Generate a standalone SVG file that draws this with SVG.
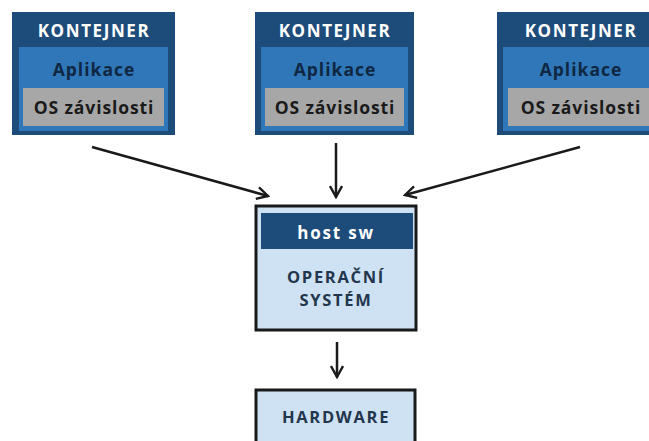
<svg xmlns="http://www.w3.org/2000/svg" width="649" height="441" viewBox="0 0 649 441">
<defs>
<style>
.outer{fill:#1d4c7a}
.inner{fill:#2f77b8}
.gray{fill:#a7a7a7}
.t{font-family:"Open Sans","DejaVu Sans",sans-serif;font-weight:700;text-anchor:middle}
.hdr{fill:#ffffff;font-size:17px;letter-spacing:1.6px}
.app{fill:#0f2742;font-size:17.5px;letter-spacing:1px}
.dep{fill:#1a1a1a;font-size:17.5px;letter-spacing:0.9px}
.box{fill:#cfe2f3;stroke:#1a1a1a;stroke-width:3}
.dark{fill:#22364d;font-size:16.5px;letter-spacing:1.7px}
.conn{stroke:#1a1a1a;stroke-width:2.5;fill:none}
</style>
<marker id="ah" viewBox="0 0 14 14" refX="12" refY="7" markerWidth="14" markerHeight="14" markerUnits="userSpaceOnUse" orient="auto">
<path d="M1,1 L12,7 L1,13" fill="none" stroke="#1a1a1a" stroke-width="2.4"/>
</marker>
</defs>
<rect width="649" height="441" fill="#ffffff"/>

<g id="container1">
<rect class="outer" x="12" y="12" width="163" height="123"/>
<rect class="inner" x="19" y="47" width="149" height="84"/>
<rect class="gray" x="23" y="88" width="141" height="38"/>
<text class="t hdr" x="94" y="37">KONTEJNER</text>
<text class="t app" x="94" y="76">Aplikace</text>
<text class="t dep" x="94" y="114">OS závislosti</text>
</g>

<g id="container2">
<rect class="outer" x="255" y="12" width="159" height="123"/>
<rect class="inner" x="261" y="47" width="147" height="84"/>
<rect class="gray" x="265" y="88" width="139" height="38"/>
<text class="t hdr" x="335" y="37">KONTEJNER</text>
<text class="t app" x="335" y="76">Aplikace</text>
<text class="t dep" x="335" y="114">OS závislosti</text>
</g>

<g id="container3">
<rect class="outer" x="497" y="12" width="166" height="123"/>
<rect class="inner" x="503" y="47" width="154" height="84"/>
<rect class="gray" x="508" y="88" width="144" height="38"/>
<text class="t hdr" x="581" y="37">KONTEJNER</text>
<text class="t app" x="581" y="76">Aplikace</text>
<text class="t dep" x="581" y="114">OS závislosti</text>
</g>

<g id="os">
<rect class="box" x="256" y="206" width="160" height="124"/>
<rect x="261" y="213" width="152" height="36" fill="#1d4c7a"/>
<text class="t" x="336" y="239" fill="#ffffff" font-size="17" letter-spacing="1.8">host sw</text>
<text class="t dark" x="336" y="283">OPERAČNÍ</text>
<text class="t dark" x="336" y="306">SYSTÉM</text>
</g>

<g id="hardware">
<rect class="box" x="256" y="390" width="159" height="56"/>
<text class="t dark" x="336" y="423">HARDWARE</text>
</g>

<g id="connectors">
<line class="conn" x1="92" y1="147" x2="268" y2="196" marker-end="url(#ah)"/>
<line class="conn" x1="336" y1="143" x2="336" y2="197" marker-end="url(#ah)"/>
<line class="conn" x1="580" y1="147" x2="405" y2="195" marker-end="url(#ah)"/>
<line class="conn" x1="337" y1="342" x2="337" y2="377" marker-end="url(#ah)"/>
</g>
</svg>
